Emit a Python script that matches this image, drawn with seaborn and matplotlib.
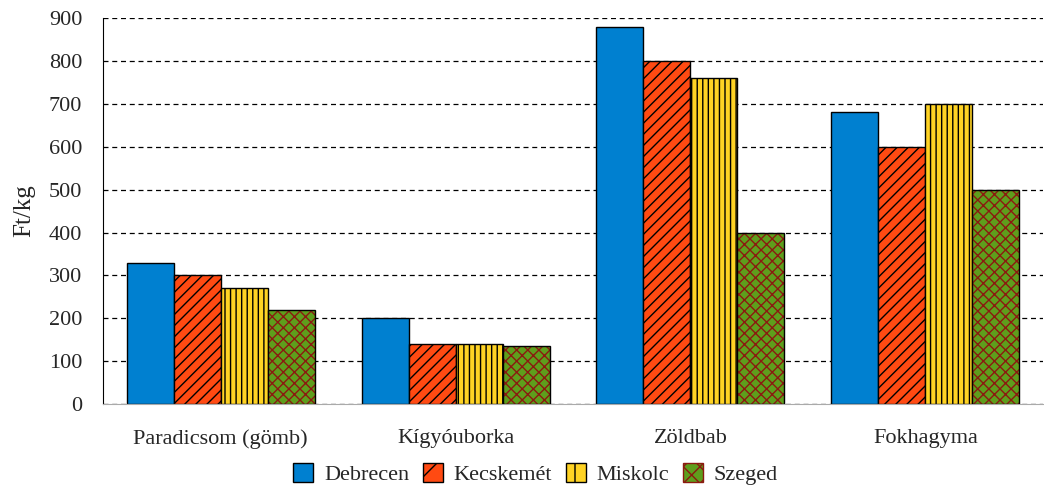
import seaborn as sns
import pandas as pd
import matplotlib.pyplot as plt
from matplotlib.patches import Rectangle, Patch

vegetables = ["Paradicsom (gömb)", "Kígyóuborka", "Zöldbab", "Fokhagyma"]
cities = ["Debrecen", "Kecskemét", "Miskolc", "Szeged"]
debrecen = [330, 200, 880, 680]
kecskemet = [300, 140, 800, 600]
miskolc = [270, 140, 760, 700]
szeged = [220, 135, 400, 500]

colors = ["#0080D0", "#FF4A12", "#FFD324", "#5E9E1C"]
hatches = ["", "///", "|||", "xxx"]
hatch_edges = ["black", "black", "black", "#8B1A10"]

rows = []
for city, vals in zip(cities, [debrecen, kecskemet, miskolc, szeged]):
    for veg, v in zip(vegetables, vals):
        rows.append({"veg": veg, "city": city, "price": v})
df = pd.DataFrame(rows)

sns.set_style("white")
plt.rcParams["font.family"] = ["Liberation Serif", "DejaVu Serif"]
plt.rcParams["hatch.linewidth"] = 1.0

fig = plt.figure(figsize=(10.44, 4.88), dpi=100)
ax = fig.add_axes([0.0987, 0.172, 0.9003, 0.791])

sns.barplot(data=df, x="veg", y="price", hue="city", order=vegetables,
            hue_order=cities, palette=colors, saturation=1, width=0.8, gap=0,
            edgecolor="black", linewidth=1.0, ax=ax, legend=False)

# hatch colour follows edge colour, so the crosshatched bars get a separate outline
for cont, h, he in zip(ax.containers, hatches, hatch_edges):
    for bar in cont:
        bar.set_hatch(h)
        bar.set_edgecolor(he)
        if he != "black":
            bar.set_linewidth(0)
            ax.add_patch(Rectangle(bar.get_xy(), bar.get_width(), bar.get_height(),
                                   fill=False, edgecolor="black", linewidth=1.0, zorder=3))

ax.set_ylim(0, 900)
ax.set_xlim(-0.5, len(vegetables) - 0.5)
ax.set_yticks(range(0, 1000, 100))
ax.yaxis.grid(True, linestyle=(0, (4, 3)), color="black", linewidth=0.9)
ax.set_axisbelow(True)
for s in ["top", "right"]:
    ax.spines[s].set_visible(False)
ax.spines["left"].set_color("black")
ax.spines["bottom"].set_color("#aaaaaa")

ax.set_xticks([i - 0.5 for i in range(len(vegetables) + 1)], minor=True)
ax.tick_params(axis="x", which="minor", length=9, color="#aaaaaa", direction="out")
ax.tick_params(axis="x", which="major", length=0, pad=18, labelsize=16)
ax.tick_params(axis="y", length=12, color="black", direction="out", labelsize=16, pad=3)

ax.set_xlabel("")
ax.set_ylabel("Ft/kg", fontsize=18, labelpad=10)

handles = [Patch(facecolor=c, edgecolor="black", hatch=h, linewidth=1.0)
           for c, h in zip(colors, ["", "/", "|", "xx"])]
handles[3] = Patch(facecolor=colors[3], edgecolor=hatch_edges[3], hatch="xx", linewidth=1.0)
fig.legend(handles, cities, loc="lower center", bbox_to_anchor=(0.513, -0.035), ncol=4,
           frameon=False, fontsize=16, handlelength=0.9, handleheight=0.9,
           handletextpad=0.5, columnspacing=0.6)

fig.savefig("out.png", dpi=100)
